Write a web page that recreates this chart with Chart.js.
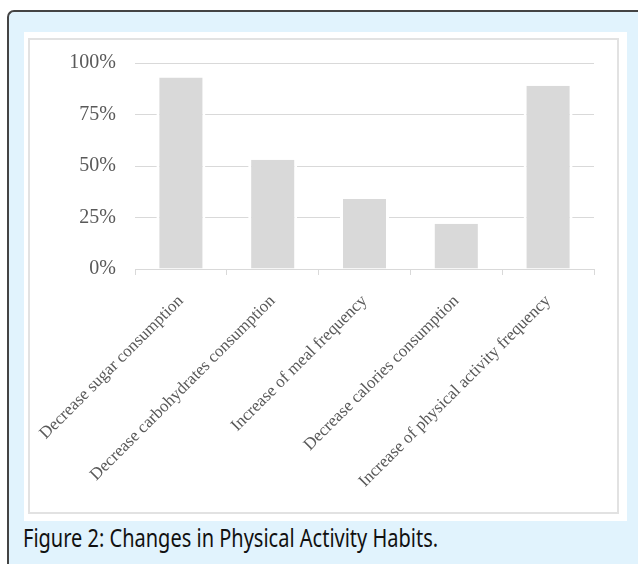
<!DOCTYPE html>
<html>
<head>
<meta charset="utf-8">
<script src="https://cdn.jsdelivr.net/npm/chart.js@4.4.0/dist/chart.umd.min.js"></script>
<style>
    body { margin: 0; width: 638px; height: 564px; overflow: hidden; background: #fff; position: relative; }
    .frame {
        position: absolute; left: 7px; top: 10px; width: 700px; height: 600px;
        border-left: 2px solid #444; border-top: 2px solid #444;
        border-top-left-radius: 7px; background: #e1f3fd;
    }
    .panel { position: absolute; left: 24px; top: 32px; width: 603px; height: 489px; background: #fff; }
    .chartBox {
        position: absolute; left: 28px; top: 38px; width: 587px; height: 472px;
        border: 2px solid #e2e2e2;
    }
    .chartBox canvas { position: absolute; left: 0; top: -8px; }
    .caption {
        position: absolute; left: 23px; top: 520px; font-family: 'Noto Sans', sans-serif;
        font-size: 25px; color: #111; white-space: nowrap;
        transform: scaleX(0.8); transform-origin: left top;
    }
</style>
</head>
<body>
<div class="frame"></div>
<div class="panel"></div>
<div class="chartBox"><canvas id="habitsChart" width="587" height="480"></canvas></div>
<div class="caption">Figure 2: Changes in Physical Activity Habits.</div>

<script>
// Chart data
const categories = [
    'Decrease sugar consumption',
    'Decrease carbohydrates consumption',
    'Increase of meal frequency',
    'Decrease calories consumption',
    'Increase of physical activity frequency'
];
const percentages = [93, 53, 34, 22, 89];
const yTickValues = [0, 25, 50, 75, 100];

const axisFont = { family: "'Liberation Serif', 'Times New Roman', serif" };

function initHabitsChart() {
    const ctx = document.getElementById('habitsChart');

    new Chart(ctx, {
        type: 'bar',
        data: {
            labels: categories,
            datasets: [{
                data: percentages,
                backgroundColor: '#d9d9d9',
                borderColor: '#ffffff',
                borderWidth: { left: 3, right: 3, top: 0, bottom: 0 },
                borderSkipped: false,
                barPercentage: 0.534,
                categoryPercentage: 1
            }]
        },
        options: {
            responsive: false,
            animation: false,
            layout: { padding: { top: 15, right: 23, left: 0, bottom: 0 } },
            scales: {
                x: {
                    grid: {
                        offset: true,
                        drawOnChartArea: false,
                        color: '#d9d9d9',
                        tickLength: 6
                    },
                    border: { color: '#d9d9d9' },
                    ticks: {
                        color: '#595959',
                        font: { ...axisFont, size: 17 },
                        minRotation: 45,
                        maxRotation: 45,
                        padding: 16
                    },
                    afterFit: function(scale) {
                        // fixed axis band; rotated labels may run into the left margin
                        scale.height = 243;
                        scale.paddingLeft = 0;
                        scale.paddingRight = 0;
                    }
                },
                y: {
                    min: 0,
                    max: 100,
                    afterBuildTicks: function(scale) {
                        scale.ticks = yTickValues.map(v => ({ value: v }));
                    },
                    grid: { color: '#d9d9d9', drawTicks: false },
                    border: { display: false },
                    ticks: {
                        color: '#595959',
                        font: { ...axisFont, size: 20 },
                        padding: 19,
                        callback: function(value) { return value + '%'; }
                    },
                    afterFit: function(scale) { scale.width = 105; }
                }
            },
            plugins: {
                legend: { display: false },
                tooltip: { enabled: false }
            }
        }
    });
}

document.addEventListener('DOMContentLoaded', initHabitsChart);
</script>
</body>
</html>
